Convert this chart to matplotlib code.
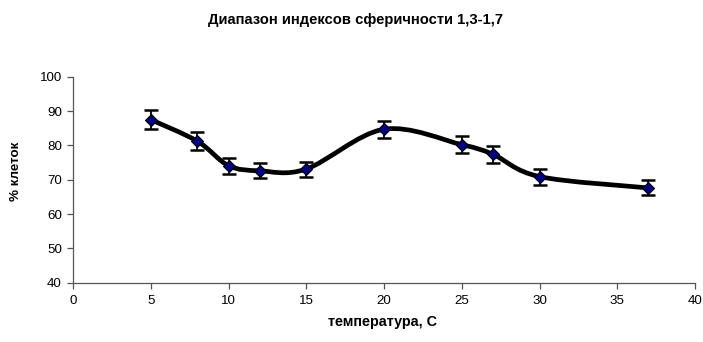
"""Sphericity index range vs temperature"""

import numpy as np
import matplotlib
matplotlib.use("Agg")
import matplotlib.pyplot as plt
from matplotlib.path import Path
from matplotlib.patches import PathPatch

TEMP = [5, 8, 10, 12, 15, 20, 25, 27, 30, 37]
CELLS = [87.5, 81.2, 74.1, 72.6, 73.1, 84.7, 80.2, 77.4, 70.9, 67.6]
ERR = [2.7, 2.6, 2.3, 2.2, 2.2, 2.5, 2.4, 2.5, 2.3, 2.2]

TITLE = "Диапазон индексов сферичности 1,3-1,7"
XLABEL = "температура, С"
YLABEL = "% клеток"

DPI = 100
plt.rcParams["font.family"] = ["Liberation Sans", "DejaVu Sans"]
plt.rcParams["font.size"] = 9.6


def smooth_path(x, y):
    """Excel-like smoothed line: cubic Bezier through points (Catmull-Rom)."""
    p = np.column_stack([x, y]).astype(float)
    n = len(p)
    verts = [p[0]]
    codes = [Path.MOVETO]
    for i in range(n - 1):
        p0 = p[i - 1] if i > 0 else p[i]
        p3 = p[i + 2] if i + 2 < n else p[i + 1]
        c1 = p[i] + (p[i + 1] - p0) / 6.0
        c2 = p[i + 1] - (p3 - p[i]) / 6.0
        verts += [c1, c2, p[i + 1]]
        codes += [Path.CURVE4] * 3
    return Path(verts, codes)


fig = plt.figure(figsize=(703 / DPI, 342 / DPI), dpi=DPI)
ax = fig.add_axes([73 / 703, 59.3 / 342, 622 / 703, 206 / 342])

ax.add_patch(PathPatch(smooth_path(TEMP, CELLS), facecolor="none",
                       edgecolor="black", lw=3.4, capstyle="round",
                       joinstyle="round", zorder=2))
ax.errorbar(TEMP, CELLS, yerr=ERR, fmt="none", ecolor="black",
            elinewidth=1.3, capsize=5, capthick=1.8, zorder=3)
ax.plot(TEMP, CELLS, linestyle="none", marker="D", markersize=6.5,
        markerfacecolor="#000080", markeredgecolor="black",
        markeredgewidth=0.8, zorder=4)

ax.set_xlim(0, 40)
ax.set_ylim(40, 100)
ax.set_xticks(range(0, 41, 5))
ax.set_yticks(range(40, 101, 10))
for s in ["top", "right"]:
    ax.spines[s].set_visible(False)
for s in ["left", "bottom"]:
    ax.spines[s].set_color("#555555")
    ax.spines[s].set_linewidth(0.9)
ax.tick_params(direction="out", length=4, width=0.9, color="#555555",
               labelsize=9.6, pad=4)
ax.tick_params(axis="x", pad=5)

fig.text(355 / 703, 1 - 20 / 342, TITLE, ha="center", va="center",
         fontsize=10.6, fontweight="bold")
fig.text(382 / 703, 1 - 322 / 342, XLABEL, ha="center", va="center",
         fontsize=10.4, fontweight="bold")
fig.text(16 / 703, 1 - 171 / 342, YLABEL, ha="center", va="center",
         rotation=90, fontsize=9.6, fontweight="bold")

plt.savefig("out.png", dpi=DPI)
